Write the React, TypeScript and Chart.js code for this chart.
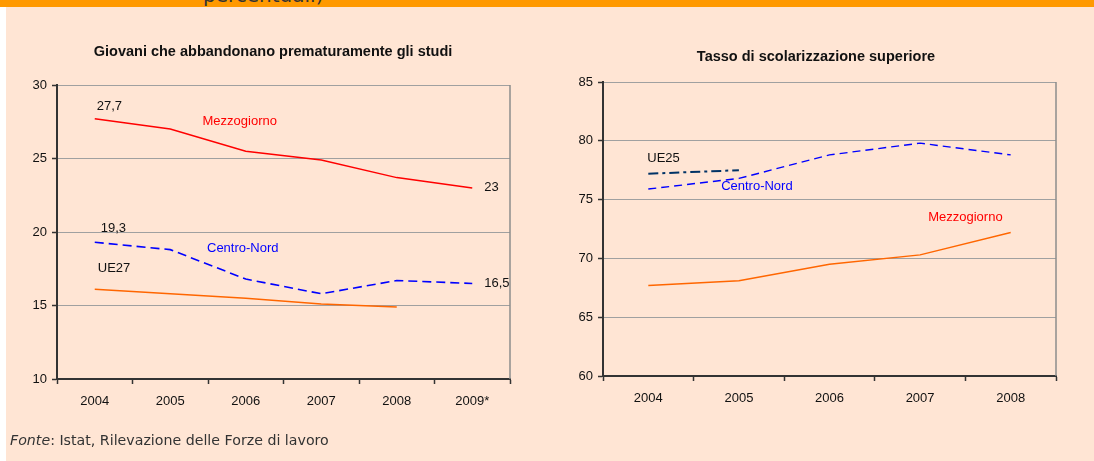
import React, { useEffect, useRef } from "react";
import { Chart, registerables } from "chart.js";
Chart.register(...registerables);

// ---------- data ----------
const leftYears = ["2004", "2005", "2006", "2007", "2008", "2009*"];
const leftMezzogiorno = [27.7, 27.0, 25.5, 24.9, 23.7, 23];
const leftCentroNord = [19.3, 18.8, 16.8, 15.8, 16.7, 16.5];
const leftUE27 = [16.1, 15.8, 15.5, 15.1, 14.9, null];
const leftTicks = [10, 15, 20, 25, 30];

const rightYears = ["2004", "2005", "2006", "2007", "2008"];
const rightCentroNord = [75.9, 76.8, 78.8, 79.8, 78.8];
const rightUE25 = [77.2, 77.5, null, null, null];
const rightMezzogiorno = [67.7, 68.1, 69.5, 70.3, 72.2];
const rightTicks = [60, 65, 70, 75, 80, 85];

const FONT = "'Liberation Sans', Arial, sans-serif";
const PEACH = "#FFE5D4";
const fmt = (v: number | null) => (v == null ? "" : String(v).replace(".", ","));

type Annot = {
  text: string;
  color: string;
  ds?: number;
  at?: number;
  x?: number;
  value?: number;
  dx: number;
  dy: number;
  align: CanvasTextAlign;
};

function xPix(chart: any, x: number) {
  const sc = chart.scales.x;
  const i0 = Math.floor(x);
  const f = x - i0;
  const p0 = sc.getPixelForValue(i0);
  if (f === 0) return p0;
  const p1 = sc.getPixelForValue(i0 + 1);
  return p0 + (p1 - p0) * f;
}

function LineChart(props: {
  labels: string[];
  datasets: any[];
  ticks: number[];
  title: string;
  titleX: number;
  titleY: number;
  yWidth: number;
  padTop: number;
  padBottom: number;
  padRight: number;
  annots: Annot[];
  width: number;
  left: number;
}) {
  const ref = useRef<HTMLCanvasElement | null>(null);
  useEffect(() => {
    if (!ref.current) return;
    const { ticks } = props;
    const overlay = {
      id: "overlay",
      afterDatasetsDraw(chart: any) {
        const ctx = chart.ctx;
        const a = chart.chartArea;
        ctx.save();
        // right border
        ctx.strokeStyle = "#8c8c8c";
        ctx.lineWidth = 1.5;
        ctx.beginPath();
        ctx.moveTo(a.right, a.top);
        ctx.lineTo(a.right, a.bottom);
        ctx.stroke();
        // annotations
        ctx.font = `13px ${FONT}`;
        ctx.textBaseline = "middle";
        for (const an of props.annots) {
          let px: number, py: number;
          if (an.ds != null && an.at != null) {
            const v = props.datasets[an.ds].data[an.at];
            px = chart.scales.x.getPixelForValue(an.at);
            py = chart.scales.y.getPixelForValue(v);
          } else {
            px = xPix(chart, an.x as number);
            py = chart.scales.y.getPixelForValue(an.value);
          }
          ctx.fillStyle = an.color;
          ctx.textAlign = an.align;
          ctx.fillText(an.text, px + an.dx, py + an.dy);
        }
        // title
        ctx.font = `bold 14.5px ${FONT}`;
        ctx.fillStyle = "#111";
        ctx.textAlign = "center";
        ctx.fillText(props.title, props.titleX, props.titleY);
        ctx.restore();
      },
    };
    const chart = new Chart(ref.current, {
      type: "line",
      data: { labels: props.labels, datasets: props.datasets },
      options: {
        animation: false,
        responsive: false,
        maintainAspectRatio: false,
        layout: {
          padding: { left: 0, top: props.padTop, right: props.padRight, bottom: props.padBottom },
        },
        plugins: { legend: { display: false }, tooltip: { enabled: false }, title: { display: false } },
        elements: { point: { radius: 0 }, line: { tension: 0 } },
        scales: {
          x: {
            type: "category",
            offset: true,
            grid: {
              offset: true,
              drawOnChartArea: false,
              drawTicks: true,
              tickLength: 5,
              tickColor: "#333",
              tickWidth: 1.5,
            },
            border: { display: true, color: "#333", width: 2 },
            ticks: {
              color: "#111",
              font: { family: FONT, size: 13 },
              padding: 10,
              maxRotation: 0,
              autoSkip: false,
            },
            afterFit: (s: any) => {
              s.height = 30;
            },
          },
          y: {
            min: ticks[0],
            max: ticks[ticks.length - 1],
            ticks: {
              stepSize: ticks[1] - ticks[0],
              color: "#111",
              font: { family: FONT, size: 13 },
              padding: 5,
            },
            grid: { color: "#a0a0a0", lineWidth: 1, tickLength: 5, tickColor: "#333", tickWidth: 1.5 },
            border: { display: true, color: "#333", width: 2 },
            afterFit: (s: any) => {
              s.width = props.yWidth;
            },
          },
        },
      },
      plugins: [overlay],
    } as any);
    return () => chart.destroy();
  }, []);
  return (
    <canvas
      ref={ref}
      width={props.width}
      height={461}
      style={{ position: "absolute", left: props.left, top: 0, width: props.width, height: 461 }}
    />
  );
}

export default function App() {
  const leftDatasets = [
    { data: leftMezzogiorno, borderColor: "#FF0000", borderWidth: 1.5, fill: false },
    { data: leftCentroNord, borderColor: "#0000FF", borderWidth: 1.6, borderDash: [9, 5], fill: false },
    { data: leftUE27, borderColor: "#FF6600", borderWidth: 1.5, fill: false, spanGaps: false },
  ];
  const rightDatasets = [
    { data: rightCentroNord, borderColor: "#0000FF", borderWidth: 1.4, borderDash: [8, 5], fill: false },
    { data: rightUE25, borderColor: "#003366", borderWidth: 2, borderDash: [10, 4, 3, 4], fill: false },
    { data: rightMezzogiorno, borderColor: "#FF6600", borderWidth: 1.5, fill: false },
  ];
  const leftAnnots: Annot[] = [
    { text: fmt(leftMezzogiorno[0]), color: "#111", ds: 0, at: 0, dx: 2, dy: -12, align: "left" },
    { text: fmt(leftMezzogiorno[5]), color: "#111", ds: 0, at: 5, dx: 12, dy: 0, align: "left" },
    { text: fmt(leftCentroNord[0]), color: "#111", ds: 1, at: 0, dx: 6, dy: -14, align: "left" },
    { text: fmt(leftCentroNord[5]), color: "#111", ds: 1, at: 5, dx: 12, dy: 0, align: "left" },
    { text: "UE27", color: "#111", ds: 2, at: 0, dx: 3, dy: -21, align: "left" },
    { text: "Mezzogiorno", color: "#FF0000", x: 2, value: 27.5, dx: -6, dy: 0, align: "center" },
    { text: "Centro-Nord", color: "#0000FF", x: 2, value: 18.9, dx: -3, dy: 0, align: "center" },
  ];
  const rightAnnots: Annot[] = [
    { text: "UE25", color: "#111", ds: 1, at: 0, dx: -1, dy: -15, align: "left" },
    { text: "Centro-Nord", color: "#0000FF", x: 1, value: 76.15, dx: 18, dy: 0, align: "center" },
    { text: "Mezzogiorno", color: "#FF0000", x: 3.5, value: 73.5, dx: 0, dy: 0, align: "center" },
  ];
  return (
    <div style={{ position: "absolute", left: 0, top: 0, width: 1094, height: 461, background: "#fff", overflow: "hidden" }}>
      <div
        style={{
          position: "absolute",
          left: 0,
          top: 0,
          width: 1094,
          height: 7,
          background: "#FF9900",
          overflow: "hidden",
        }}
      >
        <div
          style={{
            position: "absolute",
            left: 203,
            top: -15,
            fontFamily: "'DejaVu Sans', sans-serif",
            fontSize: 20,
            lineHeight: "20px",
            color: "#333",
            whiteSpace: "nowrap",
          }}
        >
          percentuali)
        </div>
      </div>
      <div style={{ position: "absolute", left: 6, top: 7, right: 0, bottom: 0, background: PEACH }} />
      <LineChart
        labels={leftYears}
        datasets={leftDatasets}
        ticks={leftTicks}
        title="Giovani che abbandonano prematuramente gli studi"
        titleX={273}
        titleY={52}
        yWidth={57}
        padTop={85}
        padBottom={52}
        padRight={35}
        annots={leftAnnots}
        width={545}
        left={0}
      />
      <LineChart
        labels={rightYears}
        datasets={rightDatasets}
        ticks={rightTicks}
        title="Tasso di scolarizzazione superiore"
        titleX={271}
        titleY={57}
        yWidth={58}
        padTop={82}
        padBottom={55}
        padRight={38}
        annots={rightAnnots}
        width={549}
        left={545}
      />
      <div
        style={{
          position: "absolute",
          left: 10,
          top: 431,
          fontFamily: "'DejaVu Sans', sans-serif",
          fontSize: 14.2,
          lineHeight: "18px",
          color: "#333",
          whiteSpace: "nowrap",
        }}
      >
        <i>Fonte</i>: Istat, Rilevazione delle Forze di lavoro
      </div>
    </div>
  );
}
